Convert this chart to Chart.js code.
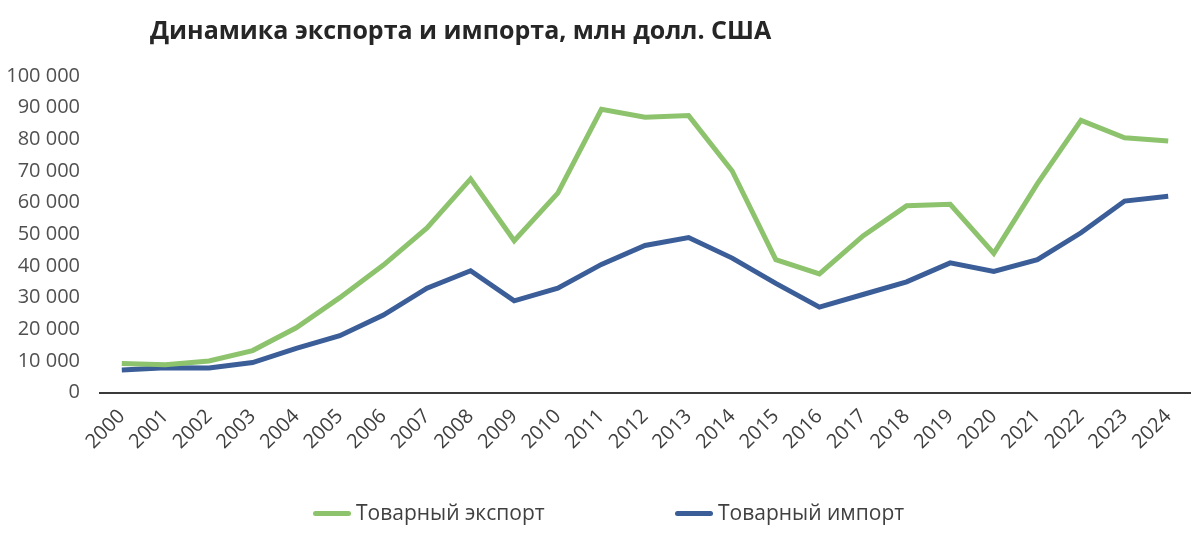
<!DOCTYPE html>
<html>
<head>
<meta charset="utf-8">
<script src="https://cdn.jsdelivr.net/npm/chart.js@4"></script>
<style>
  body { margin: 0; background: #fff; }
  #wrap { position: relative; width: 1200px; height: 541px; }
  #title { position: absolute; left: 150px; top: 12px; font: bold 25px "Open Sans", sans-serif; color: #262626; white-space: nowrap; }
  #legend { position: absolute; top: 497px; left: 0; width: 1200px; font: 21px "Open Sans", sans-serif; color: #404040; }
  .item { position: absolute; top: 0; white-space: nowrap; line-height: 30px; }
  .bar { display: inline-block; width: 38px; height: 5px; border-radius: 3px; vertical-align: middle; margin-right: 5px; position: relative; top: -1px; }
</style>
</head>
<body>
<div id="wrap">
  <div id="title">Динамика экспорта и импорта, млн долл. США</div>
  <canvas id="chart" width="1200" height="541"></canvas>
  <div id="legend"></div>
</div>
<script>
var years = ['2000','2001','2002','2003','2004','2005','2006','2007','2008','2009','2010','2011','2012',
             '2013','2014','2015','2016','2017','2018','2019','2020','2021','2022','2023','2024'];
var exportValues = [9200, 8800, 10000, 13300, 20500, 30000, 40300, 52000, 67500, 48000, 63000, 89500, 87000,
                    87500, 70000, 42000, 37500, 49500, 59000, 59500, 44000, 66000, 86000, 80500, 79500];
var importValues = [7200, 7900, 7800, 9500, 14000, 18000, 24500, 33000, 38500, 29000, 33000, 40500, 46500,
                    49000, 42500, 34500, 27000, 31000, 35000, 41000, 38300, 42000, 50500, 60500, 62000];
var seriesNames = ['Товарный экспорт', 'Товарный импорт'];
var seriesColors = ['#8DC36D', '#3B5E99'];

function drawChart() {
    var ctx = document.getElementById('chart');
    var chart = new Chart(ctx, {
        type: 'line',
        data: {
            labels: years,
            datasets: [
                {
                    label: seriesNames[0],
                    data: exportValues,
                    borderColor: seriesColors[0],
                    backgroundColor: seriesColors[0],
                    borderWidth: 5,
                    pointRadius: 0,
                    tension: 0
                },
                {
                    label: seriesNames[1],
                    data: importValues,
                    borderColor: seriesColors[1],
                    backgroundColor: seriesColors[1],
                    borderWidth: 5,
                    pointRadius: 0,
                    tension: 0
                }
            ]
        },
        options: {
            responsive: false,
            animation: false,
            layout: { padding: { top: 76, right: 10, left: 8, bottom: 83 } },
            plugins: {
                title: { display: false },
                tooltip: { enabled: false },
                legend: { display: false }
            },
            scales: {
                x: {
                    offset: true,
                    grid: { display: false },
                    border: { display: true, color: '#3a3a3a', width: 2 },
                    // rotated labels may hang over the y labels, like in the original
                    afterFit: function (scale) {
                        scale.paddingLeft = 0;
                        scale.paddingRight = 0;
                    },
                    ticks: {
                        minRotation: 45,
                        maxRotation: 45,
                        padding: 4,
                        color: '#404040',
                        font: { family: 'Open Sans', size: 20 }
                    }
                },
                y: {
                    min: 0,
                    max: 100000,
                    grid: { display: false, drawTicks: false },
                    border: { display: false },
                    afterFit: function (scale) {
                        scale.width = 92;
                    },
                    ticks: {
                        stepSize: 10000,
                        padding: 20,
                        color: '#505050',
                        font: { family: 'Open Sans', size: 20 },
                        callback: function (v) {
                            return String(v).replace(/\B(?=(\d{3})+(?!\d))/g, ' ');
                        }
                    }
                }
            }
        }
    });

    // legend in html, spaced like the original
    var legendX = [313, 675];
    var legend = document.getElementById('legend');
    chart.data.datasets.forEach(function (ds, i) {
        var item = document.createElement('div');
        item.className = 'item';
        item.style.left = legendX[i] + 'px';
        var bar = document.createElement('span');
        bar.className = 'bar';
        bar.style.background = ds.borderColor;
        item.appendChild(bar);
        item.appendChild(document.createTextNode(ds.label));
        legend.appendChild(item);
    });
}

document.fonts.load('20px "Open Sans"').then(drawChart, drawChart);
</script>
</body>
</html>
